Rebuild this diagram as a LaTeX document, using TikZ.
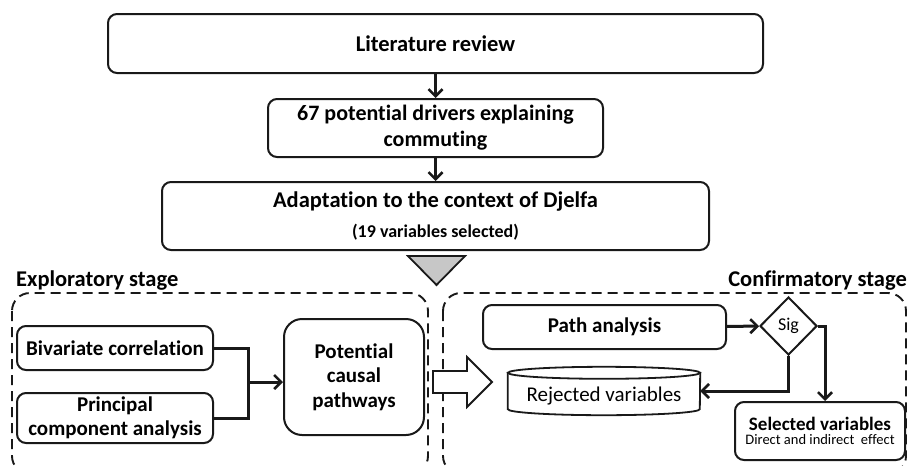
\documentclass[tikz,border=0pt]{standalone}
\usepackage{fontspec}
\setmainfont{Carlito}[Ligatures=NoCommon]
\usetikzlibrary{arrows.meta,shapes.geometric}
\begin{document}
\begin{tikzpicture}[x=1pt,y=-1pt,
  box/.style={draw=black!90, line width=2pt, rounded corners=9pt, align=center, inner sep=0pt, fill=white},
  dbox/.style={draw=black!90, line width=1.9pt, rounded corners=18pt, dash pattern=on 10pt off 6pt},
  conn/.style={draw=black!90, line width=3pt},
  arr/.style={-{Straight Barb[length=7pt,width=14pt,line width=2.6pt]}},
  hb/.style={font=\fontsize{22.5}{26}\selectfont\bfseries},
  mb/.style={font=\fontsize{21}{24.5}\selectfont\bfseries},
  cyl/.style={draw=black!90, line width=1.8pt, fill=white}]
\clip (0,0) rectangle (908,466);
\fill[white] (0,0) rectangle (908,466);

% top chain
\node[box, hb, minimum width=655pt, minimum height=59pt] (lit) at (435.5,43.5) {Literature review};
\node[box, font=\fontsize{22}{26}\selectfont\bfseries, minimum width=335pt, minimum height=58pt] (drv) at (435.5,128) {67 potential drivers explaining\\commuting};
\node[box, font=\fontsize{22.5}{30}\selectfont\bfseries, minimum width=547pt, minimum height=68pt] (adp) at (435.5,216)
  {Adaptation to the context of Djelfa\\{\fontsize{18}{20}\selectfont (19 variables selected)}};
\draw[conn,arr] (lit) -- (drv);
\draw[conn,arr] (drv) -- (adp);
\filldraw[fill=black!22, draw=black!90, line width=1.8pt] (408,256) -- (465,256) -- (436.5,285) -- cycle;

% stage frames
\draw[dbox] (12,293) rectangle (428,474);
\draw[dbox] (443,293) rectangle (906,474);
\node[hb, anchor=base west, inner sep=0pt] (exl) at (16,286) {Exploratory stage};
\node[hb, anchor=base east, inner sep=0pt] (cfl) at (907,286) {Confirmatory stage};

% exploratory stage
\node[box, mb, minimum width=196pt, minimum height=44pt] (biv) at (115,348) {Bivariate correlation};
\node[box, mb, minimum width=196pt, minimum height=50pt] (pca) at (115,418) {Principal\\component analysis};
\node[box, mb, rounded corners=18pt, minimum width=140pt, minimum height=116pt] (pot) at (354,377) {Potential\\causal\\pathways};
\coordinate (j) at (248,382);
\draw[conn] (biv.east) -| (j);
\draw[conn] (pca.east) -| (j);
\draw[conn,arr] (j) -- (j -| pot.west);

% block arrow
\filldraw[fill=white, draw=black!90, line width=1.8pt] (433,371) -- (467,371) -- (467,357) -- (492,382) -- (467,407) -- (467,393) -- (433,393) -- cycle;

% confirmatory stage
\node[box, mb, minimum width=243pt, minimum height=44pt] (pth) at (604.5,327) {Path analysis};
\node[diamond, draw=black!90, line width=2pt, fill=white, minimum width=57pt, minimum height=58pt, inner sep=0pt, font=\fontsize{18}{20}\selectfont] (sig) at (788.5,326) {Sig};
\draw[conn,arr] (pth) -- (sig);

\node[minimum width=192pt, minimum height=36pt, inner sep=0pt] (rej) at (604,391) {};
\draw[cyl] (rej.north west) -- (rej.south west) arc[start angle=180, end angle=360, x radius=96pt, y radius=6pt] -- (rej.north east) -- cycle;
\draw[cyl] (rej.north) ellipse[x radius=96pt, y radius=6pt];
\node[font=\fontsize{21}{24}\selectfont, inner sep=0pt] (rejt) at (604,396) {Rejected variables};

\node[box, minimum width=170pt, minimum height=58pt] (sel) at (820,431)
  {{\fontsize{19}{21}\selectfont\bfseries Selected variables}\\[2pt]{\fontsize{14.5}{17}\selectfont Direct and indirect\ \ effect}};

\draw[conn,arr] (sig.south) |- (rej.east);
\coordinate (k) at (825,326);
\draw[conn,arr] (sig.east) -- (k) -- (k |- sel.north);
\end{tikzpicture}
\end{document}
